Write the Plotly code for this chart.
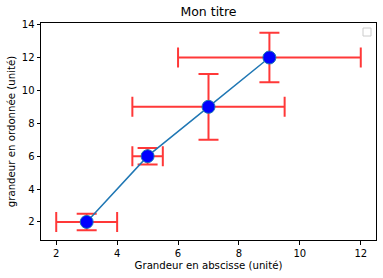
import plotly.graph_objects as go

x = [3, 5, 7, 9]
y = [2, 6, 9, 12]
x_err = [1, 0.5, 2.5, 3]
y_err = [0.5, 0.5, 2, 1.5]
x_ticks = [2, 4, 6, 8, 10, 12]
y_ticks = [2, 4, 6, 8, 10, 12, 14]

fig = go.Figure()
fig.add_trace(go.Scatter(
    x=x, y=y, mode="lines+markers",
    line=dict(color="#1f77b4", width=1.5),
    marker=dict(color="blue", size=13, line=dict(color="#1f77b4", width=1)),
    error_x=dict(type="data", array=x_err, color="rgba(255,0,0,0.78)", thickness=2, width=10),
    error_y=dict(type="data", array=y_err, color="rgba(255,0,0,0.78)", thickness=2, width=10),
    showlegend=False,
))

axis_common = dict(
    showline=True, linecolor="black", linewidth=1, mirror=True,
    ticks="outside", ticklen=3.5, tickcolor="black", tickwidth=1,
    showgrid=False, zeroline=False,
    tickfont=dict(family="DejaVu Sans", size=10, color="black"),
)

fig.update_layout(
    width=383, height=278,
    margin=dict(l=41, r=7, t=23, b=38),
    paper_bgcolor="white", plot_bgcolor="white",
    title=dict(text="Mon titre", x=(41 + 376) / 2 / 383, xanchor="center",
               y=1 - 12 / 278, yanchor="middle",
               font=dict(family="DejaVu Sans", size=12.5, color="black")),
    xaxis=dict(range=[1.5, 12.5], tickvals=x_ticks,
               title=dict(text="Grandeur en abscisse (unité)", standoff=4,
                          font=dict(family="DejaVu Sans", size=10.2, color="black")),
               **axis_common),
    yaxis=dict(range=[0.9, 14.1], tickvals=y_ticks,
               title=dict(text="grandeur en ordonnée (unité)", standoff=4,
                          font=dict(family="DejaVu Sans", size=10.2, color="black")),
               **axis_common),
    shapes=[dict(type="rect", xref="paper", yref="paper",
                 x0=(363 - 41) / 335, x1=(371 - 41) / 335,
                 y0=(240 - 36) / 217, y1=(240 - 28) / 217,
                 line=dict(color="#cccccc", width=1), fillcolor="white")],
)

fig.write_html("out.html")
